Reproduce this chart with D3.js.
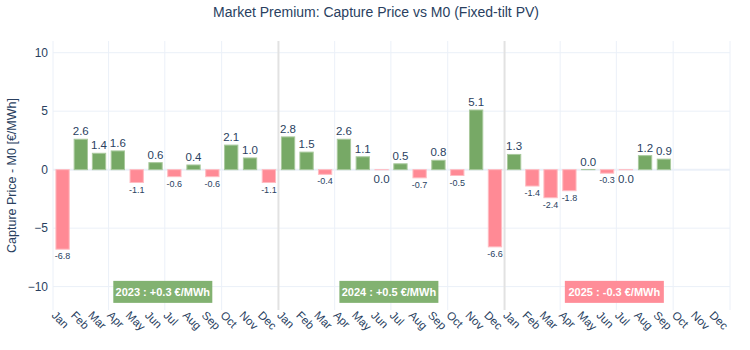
<!DOCTYPE html>
<html>
<head>
<meta charset="utf-8">
<script src="https://cdn.jsdelivr.net/npm/d3@7"></script>
<style>
  body { margin: 0; background: #fff; }
  text { font-family: Arial, "Liberation Sans", sans-serif; }
</style>
</head>
<body>
<svg id="chart"></svg>
<script>
// monthly capture price minus M0, €/MWh
const years = [2023, 2024, 2025];
const monthNames = ['Jan', 'Feb', 'Mar', 'Apr', 'May', 'Jun', 'Jul', 'Aug', 'Sep', 'Oct', 'Nov', 'Dec'];
const premium2023 = [-6.8, 2.6, 1.4, 1.6, -1.1, 0.6, -0.6, 0.4, -0.6, 2.1, 1.0, -1.1];
const premium2024 = [2.8, 1.5, -0.4, 2.6, 1.1, -0.01, 0.5, -0.7, 0.8, -0.5, 5.1, -6.6];
const premium2025 = [1.3, -1.4, -2.4, -1.8, 0.01, -0.3, -0.01, 1.2, 0.9];
const yearAverages = [0.3, 0.5, -0.3];
const yearLabels = ['2023 : +0.3 €/MWh', '2024 : +0.5 €/MWh', '2025 : -0.3 €/MWh'];
const yTicks = [-10, -5, 0, 5, 10];

class premiumChart {

    constructor(config) {
        this.config = {
            parent: config.parent,
            width: config.width || 750,
            height: config.height || 350,
            margin: config.margin || { top: 41, right: 20, bottom: 40, left: 53 }
        };
        this.init();
    }

    init() {
        let self = this;
        let m = self.config.margin;

        self.svg = d3.select(self.config.parent)
            .attr('width', self.config.width)
            .attr('height', self.config.height);

        self.x = d3.scaleTime()
            .domain([new Date(2023, 0, 1), new Date(2026, 0, 1)])
            .range([m.left, self.config.width - m.right]);
        self.y = d3.scaleLinear()
            .domain([-12, 11])
            .range([self.config.height - m.bottom, m.top]);

        self.green = '#77a966';
        self.red = '#ff8a95';
    }

    render() {
        let self = this;
        let x = self.x, y = self.y;
        let [top, bottom] = [y.range()[1], y.range()[0]];

        let series = [premium2023, premium2024, premium2025];
        let bars = [];
        years.forEach((yr, yi) => {
            series[yi].forEach((v, i) => {
                let start = new Date(yr, i, 1), end = new Date(yr, i + 1, 1);
                bars.push({ start: start, end: end, value: v });
            });
        });

        // grid
        let grid = self.svg.append('g');
        grid.selectAll('.hgrid')
            .data(yTicks)
            .join('line')
            .attr('x1', x.range()[0]).attr('x2', x.range()[1])
            .attr('y1', d => y(d)).attr('y2', d => y(d))
            .attr('stroke', '#ebf0f8')
            .attr('stroke-width', d => d === 0 ? 2 : 1);

        grid.selectAll('.vgrid')
            .data(d3.timeMonth.every(3).range(new Date(2023, 0, 1), new Date(2026, 0, 2)))
            .join('line')
            .attr('x1', d => x(d)).attr('x2', d => x(d))
            .attr('y1', top).attr('y2', bottom)
            .attr('stroke', '#ebf0f8');

        // year separators
        grid.selectAll('.sep')
            .data([new Date(2024, 0, 1), new Date(2025, 0, 1)])
            .join('line')
            .attr('x1', d => x(d)).attr('x2', d => x(d))
            .attr('y1', top).attr('y2', bottom)
            .attr('stroke', '#e2e2e2')
            .attr('stroke-width', 2);

        // y axis labels
        self.svg.append('g').selectAll('text')
            .data(yTicks)
            .join('text')
            .attr('x', x.range()[0] - 5)
            .attr('y', d => y(d))
            .attr('dy', '0.35em')
            .attr('text-anchor', 'end')
            .attr('fill', '#2a3f5f')
            .style('font-size', '12px')
            .text(d => d3.format('d')(d));

        self.svg.append('text')
            .attr('transform', `translate(16, ${(top + bottom) / 2}) rotate(-90)`)
            .attr('text-anchor', 'middle')
            .attr('fill', '#2a3f5f')
            .style('font-size', '12.5px')
            .text('Capture Price - M0 [€/MWh]');

        // bars
        let bw = 13.3;
        self.svg.append('g').selectAll('rect')
            .data(bars)
            .join('rect')
            .attr('x', d => (x(d.start) + x(d.end)) / 2 - bw / 2)
            .attr('width', bw)
            .attr('y', d => y(Math.max(0, d.value)))
            .attr('height', d => Math.abs(y(d.value) - y(0)))
            .attr('fill', d => d.value >= 0 ? self.green : self.red)
            .attr('stroke', d => d.value >= 0 ? '#a9c99d' : '#ffbcc2')
            .attr('stroke-width', 1);

        // bar labels
        let fmt = v => Math.abs(v) < 0.05 ? '0.0' : v.toFixed(1);
        self.svg.append('g').selectAll('text')
            .data(bars)
            .join('text')
            .attr('x', d => (x(d.start) + x(d.end)) / 2)
            .attr('y', d => {
                if (Math.abs(d.value) < 0.05) return d.value > 0 ? y(0) - 4 : y(0) + 13;
                return d.value > 0 ? y(d.value) - 4 : y(d.value) + 10;
            })
            .attr('text-anchor', 'middle')
            .attr('fill', '#2a3f5f')
            .style('font-size', d => (d.value < 0 && Math.abs(d.value) >= 0.05) ? '9px' : '11.5px')
            .text(d => fmt(d.value));

        // month tick labels
        let ticks = d3.timeMonth.range(new Date(2023, 0, 1), new Date(2026, 0, 1));
        self.svg.append('g').selectAll('text')
            .data(ticks)
            .join('text')
            .attr('transform', d => `translate(${x(d) - 2}, ${bottom + 6}) rotate(45)`)
            .attr('text-anchor', 'start')
            .attr('fill', '#2a3f5f')
            .style('font-size', '11.5px')
            .text(d => monthNames[d.getMonth()]);

        // yearly summaries
        years.forEach((yr, i) => {
            let g = self.svg.append('g')
                .attr('transform', `translate(${x(new Date(yr, 6, 1)) - 2}, ${y(-10.45)})`);
            let t = g.append('text')
                .attr('text-anchor', 'middle')
                .attr('dy', '0.35em')
                .attr('fill', '#fff')
                .style('font-size', '11px')
                .style('font-weight', 'bold')
                .text(yearLabels[i]);
            let bb = t.node().getBBox();
            g.insert('rect', 'text')
                .attr('x', -49.5)
                .attr('y', -11)
                .attr('width', 99)
                .attr('height', 22)
                .attr('fill', yearAverages[i] >= 0 ? '#82b271' : '#ff8d98');
        });

        self.svg.append('text')
            .attr('x', self.config.width / 2 + 1)
            .attr('y', 17)
            .attr('text-anchor', 'middle')
            .attr('fill', '#2a3f5f')
            .style('font-size', '14px')
            .text('Market Premium: Capture Price vs M0 (Fixed-tilt PV)');
    }
}

let chart = new premiumChart({ parent: '#chart' });
chart.render();
</script>
</body>
</html>
